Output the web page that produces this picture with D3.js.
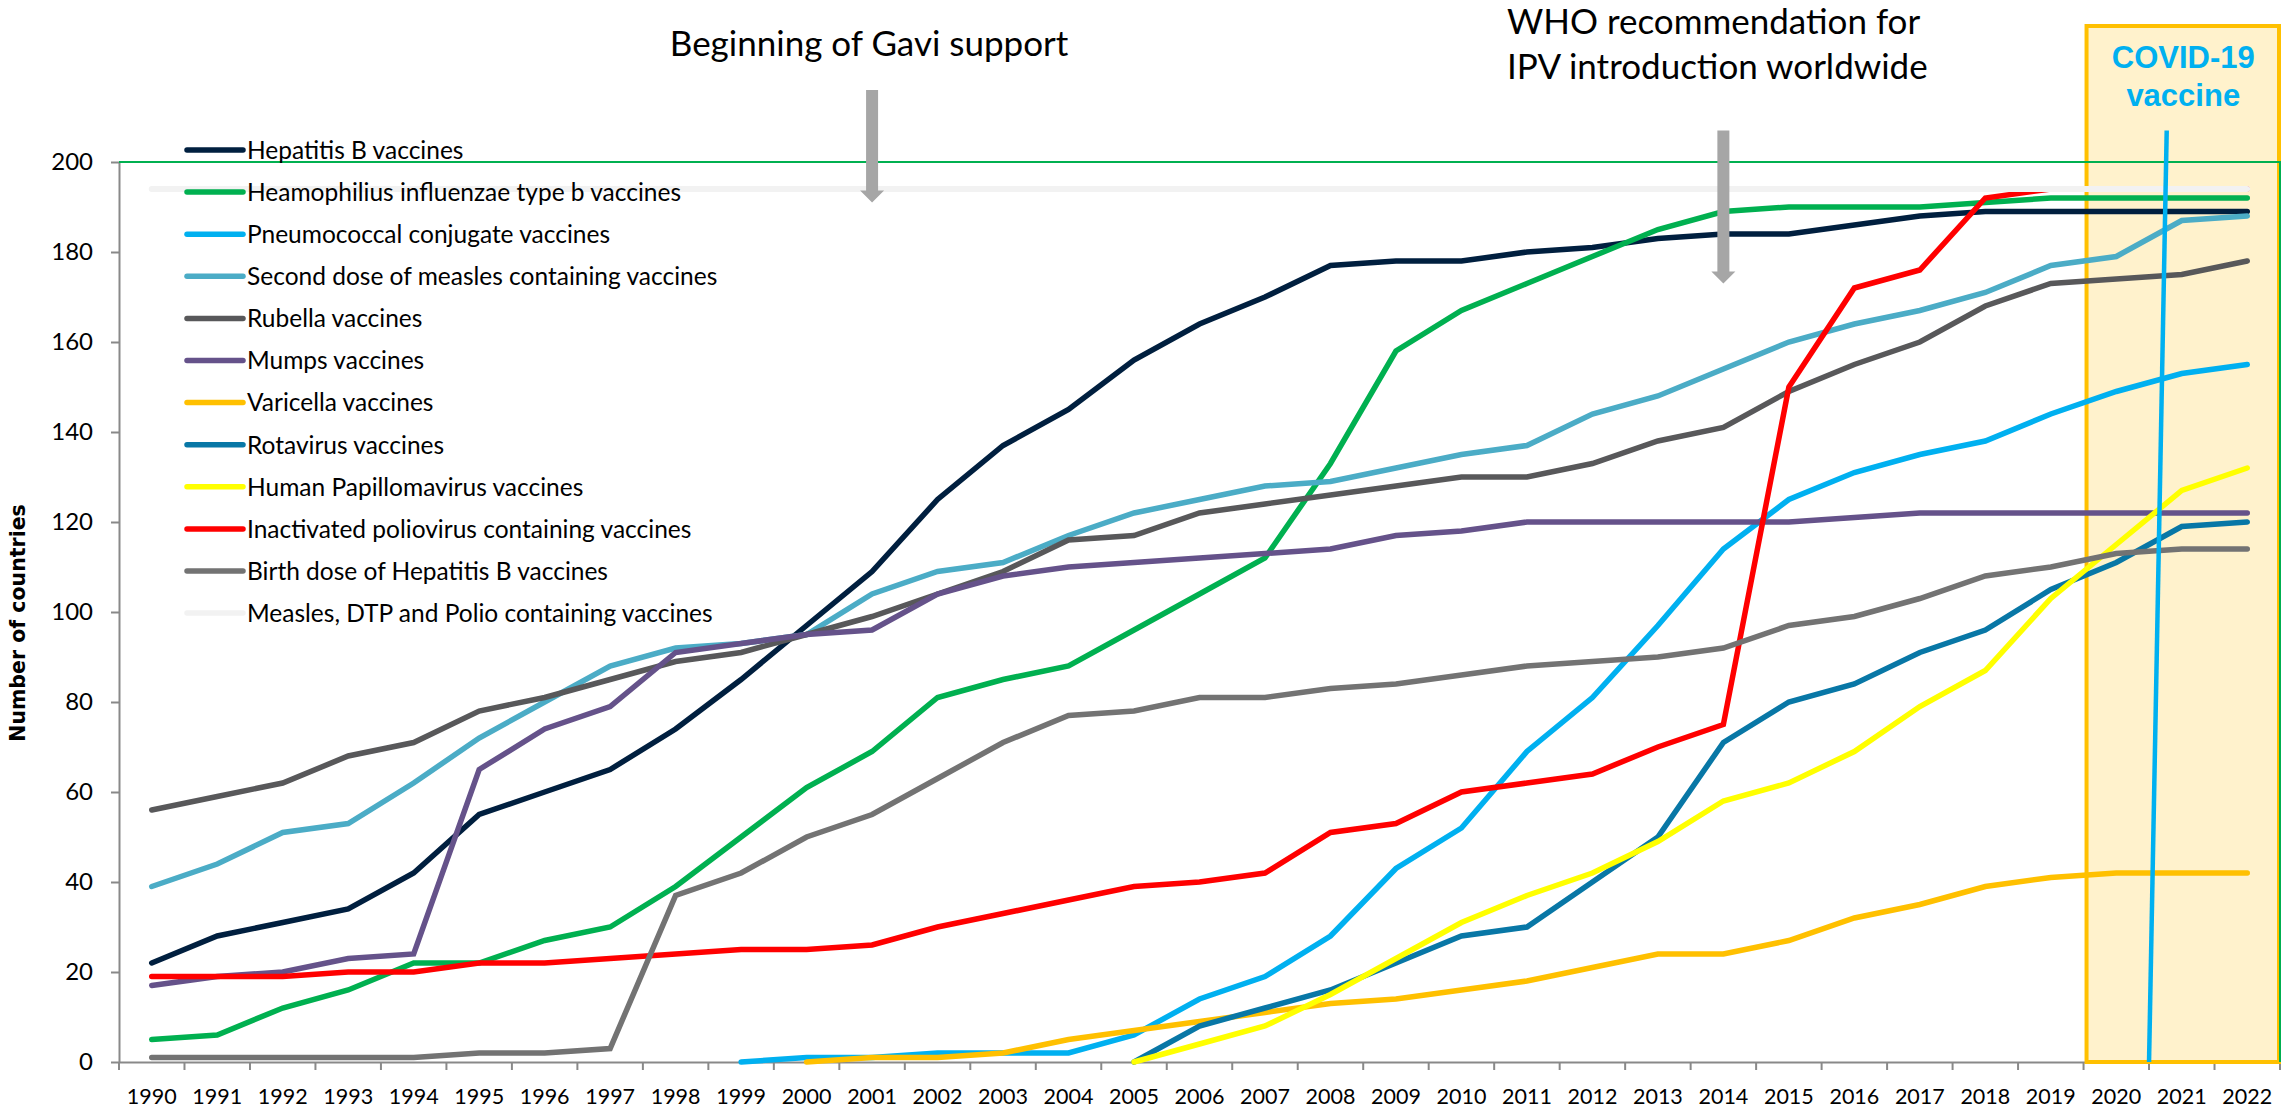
<!DOCTYPE html>
<html>
<head>
<meta charset="utf-8">
<script src="https://cdn.jsdelivr.net/npm/d3@7"></script>
<style>
  body{ margin:0; padding:0; background:#fff; }
  svg{ display:block; }
  .tick text{ font-family: Lato, "Noto Sans", sans-serif; fill:#000; }
</style>
</head>
<body>
<div id="chart"></div>
<script>
// chart data
const years = ["1990","1991","1992","1993","1994","1995","1996","1997","1998","1999","2000",
  "2001","2002","2003","2004","2005","2006","2007","2008","2009","2010","2011",
  "2012","2013","2014","2015","2016","2017","2018","2019","2020","2021","2022"];
const yTicks = [0,20,40,60,80,100,120,140,160,180,200];

const seriesNames = [
  "Hepatitis B vaccines",
  "Heamophilius influenzae type b vaccines",
  "Pneumococcal conjugate vaccines",
  "Second dose of measles containing vaccines",
  "Rubella vaccines",
  "Mumps vaccines",
  "Varicella vaccines",
  "Rotavirus vaccines",
  "Human Papillomavirus vaccines",
  "Inactivated poliovirus containing vaccines",
  "Birth dose of Hepatitis B vaccines",
  "Measles, DTP and Polio containing vaccines"
];
const seriesColors = ["#001f3f","#00b050","#00b0f0","#4bacc6","#58585a","#65528a",
  "#ffc000","#0877a6","#ffff00","#ff0000","#737373","#f2f2f2"];

const hepB      = [22,28,31,34,42,55,60,65,74,85,97,109,125,137,145,156,164,170,177,178,178,180,181,183,184,184,186,188,189,189,189,189,189];
const hib       = [5,6,12,16,22,22,27,30,39,50,61,69,81,85,88,96,104,112,133,158,167,173,179,185,189,190,190,190,191,192,192,192,192];
const pcv       = [null,null,null,null,null,null,null,null,null,0,1,1,2,2,2,6,14,19,28,43,52,69,81,97,114,125,131,135,138,144,149,153,155];
const mcv2      = [39,44,51,53,62,72,80,88,92,93,95,104,109,111,117,122,125,128,129,132,135,137,144,148,154,160,164,167,171,177,179,187,188];
const rubella   = [56,59,62,68,71,78,81,85,89,91,95,99,104,109,116,117,122,124,126,128,130,130,133,138,141,149,155,160,168,173,174,175,178];
const mumps     = [17,19,20,23,24,65,74,79,91,93,95,96,104,108,110,111,112,113,114,117,118,120,120,120,120,120,121,122,122,122,122,122,122];
const varicella = [null,null,null,null,null,null,null,null,null,null,0,1,1,2,5,7,9,11,13,14,16,18,21,24,24,27,32,35,39,41,42,42,42];
const rota      = [null,null,null,null,null,null,null,null,null,null,null,null,null,null,null,0,8,12,16,22,28,30,40,50,71,80,84,91,96,105,111,119,120];
const hpv       = [null,null,null,null,null,null,null,null,null,null,null,null,null,null,null,0,4,8,15,23,31,37,42,49,58,62,69,79,87,103,115,127,132];
const ipv       = [19,19,19,20,20,22,22,23,24,25,25,26,30,33,36,39,40,42,51,53,60,62,64,70,75,150,172,176,192,194,194,194,194];
const birthDose = [1,1,1,1,1,2,2,3,37,42,50,55,63,71,77,78,81,81,83,84,86,88,89,90,92,97,99,103,108,110,113,114,114];
const mdp       = [194,194,194,194,194,194,194,194,194,194,194,194,194,194,194,194,194,194,194,194,194,194,194,194,194,194,194,194,194,194,194,194,194];

// annotations: [year position, value]
const covidYears = ["2020","2021","2022"];
const covidLine = [[2020.5, 0], [2020.77, 207]];
const gaviArrow = {year: "2001", top: 216, tip: 191};
const whoArrow = {year: "2014", top: 207, tip: 173};

const allSeries = [hepB, hib, pcv, mcv2, rubella, mumps, varicella, rota, hpv, ipv, birthDose, mdp];

/*
Initial SVG values
*/
var width = 2285;
var height = 1117;
var plotLeft = 119, plotRight = 2280, plotTop = 162, plotBottom = 1062;

var svg = d3.select("#chart")
    .append("svg")
    .attr("width", width)
    .attr("height", height);

var x = d3.scaleBand()
    .domain(years)
    .range([plotLeft, plotRight]);

var bw = x.bandwidth();
var cx = (d) => x(d) + bw / 2;

//continuous year scale for annotations placed between categories
var xYear = d3.scaleLinear()
    .domain([+years[0], +years[years.length - 1]])
    .range([cx(years[0]), cx(years[years.length - 1])]);

var y = d3.scaleLinear()
    .domain([0, 200])
    .range([plotBottom, plotTop]);

/*
Axes
*/
var xAxis = svg.append("g")
    .attr("transform", "translate(0," + plotBottom + ")")
    .call(d3.axisBottom(x).tickSize(0).tickPadding(27));
xAxis.select(".domain").attr("stroke", "#898989").attr("stroke-width", 2);
xAxis.selectAll(".tick text").style("font-size", "21.5px");

//tick marks sit on the category boundaries
var bounds = years.map((d) => x(d)).concat([plotRight]);
svg.append("g")
    .selectAll("line")
    .data(bounds)
    .enter()
    .append("line")
    .attr("x1", (d) => d)
    .attr("x2", (d) => d)
    .attr("y1", plotBottom)
    .attr("y2", plotBottom + 8)
    .attr("stroke", "#898989")
    .attr("stroke-width", 2);

var yAxis = svg.append("g")
    .attr("transform", "translate(" + plotLeft + ",0)")
    .call(d3.axisLeft(y).tickValues(yTicks).tickSize(8).tickSizeOuter(0).tickPadding(18));
yAxis.select(".domain").attr("stroke", "#898989").attr("stroke-width", 2);
yAxis.selectAll(".tick line").attr("stroke", "#898989").attr("stroke-width", 2);
yAxis.selectAll(".tick text").style("font-size", "24px");

svg.append("text")
    .attr("transform", "translate(25," + ((plotTop + plotBottom) / 2 + 11) + ") rotate(-90)")
    .attr("text-anchor", "middle")
    .style("font-family", "'DejaVu Sans', Verdana, sans-serif")
    .style("font-weight", "bold")
    .style("font-size", "20.5px")
    .text("Number of countries");

/*
COVID-19 box
*/
var boxLeft = x(covidYears[0]) + 3;
svg.append("rect")
    .attr("x", boxLeft)
    .attr("y", 26)
    .attr("width", plotRight - 1 - boxLeft)
    .attr("height", plotBottom - 26)
    .attr("fill", "#fff2cc")
    .attr("stroke", "#ffc000")
    .attr("stroke-width", 4);

//plot area border (top and right)
svg.append("path")
    .attr("d", "M" + plotLeft + "," + plotTop + "H" + plotRight + "V" + plotBottom)
    .attr("fill", "none")
    .attr("stroke", "#00b050")
    .attr("stroke-width", 2);

/*
Series lines
*/
var line = d3.line()
    .defined((d) => d[1] !== null)
    .x((d) => cx(d[0]))
    .y((d) => y(d[1]));

svg.append("g")
    .selectAll("path")
    .data(allSeries)
    .enter()
    .append("path")
    .attr("d", (s) => line(s.map((v, i) => [years[i], v])))
    .attr("fill", "none")
    .attr("stroke", (s, i) => seriesColors[i])
    .attr("stroke-width", (s, i) => i === 11 ? 6 : 5.5)
    .attr("stroke-linecap", "round")
    .attr("stroke-linejoin", "miter");

//covid vaccine introduction line
svg.append("path")
    .datum(covidLine)
    .attr("d", d3.line().x((d) => xYear(d[0])).y((d) => y(d[1])))
    .attr("stroke", "#00b0f0")
    .attr("stroke-width", 4.5)
    .attr("fill", "none");

svg.append("text")
    .attr("x", boxLeft + (plotRight - boxLeft) / 2)
    .attr("y", 68)
    .attr("text-anchor", "middle")
    .style("font-family", "'Liberation Sans', Arial, sans-serif")
    .style("font-weight", "bold")
    .style("font-size", "31px")
    .style("fill", "#00b0f0")
    .selectAll("tspan")
    .data(["COVID-19", "vaccine"])
    .enter()
    .append("tspan")
    .attr("x", boxLeft + (plotRight - boxLeft) / 2)
    .attr("dy", (d, i) => i === 0 ? 0 : 38)
    .text((d) => d);

/*
Legend
*/
var legend = svg.append("g")
    .selectAll("g")
    .data(seriesNames)
    .enter()
    .append("g")
    .attr("transform", (d, i) => "translate(187," + (150 + i * 42.1) + ")");

legend.append("line")
    .attr("x1", 0)
    .attr("x2", 56)
    .attr("stroke", (d, i) => seriesColors[i])
    .attr("stroke-width", 5.5)
    .attr("stroke-linecap", "round");

legend.append("text")
    .attr("x", 60)
    .attr("dy", "0.36em")
    .style("font-family", "Lato, 'Noto Sans', sans-serif")
    .style("font-size", "24.5px")
    .text((d) => d);

/*
Annotation arrows
*/
function arrow(a){
  var ax = cx(a.year);
  var top = y(a.top), tip = y(a.tip), headBase = tip - 12;
  return "M" + (ax - 6) + "," + top + "H" + (ax + 6) + "V" + headBase + "H" + (ax + 12)
    + "L" + ax + "," + tip + "L" + (ax - 12) + "," + headBase + "H" + (ax - 6) + "Z";
}

svg.append("path").attr("d", arrow(gaviArrow)).attr("fill", "#a6a6a6");
svg.append("path").attr("d", arrow(whoArrow)).attr("fill", "#a6a6a6");

svg.append("text")
    .attr("x", cx(gaviArrow.year) - 3)
    .attr("y", 56)
    .attr("text-anchor", "middle")
    .style("font-family", "Lato, 'Noto Sans', sans-serif")
    .style("font-size", "35px")
    .text("Beginning of Gavi support");

svg.append("text")
    .attr("y", 34)
    .style("font-family", "Lato, 'Noto Sans', sans-serif")
    .style("font-size", "35px")
    .selectAll("tspan")
    .data(["WHO recommendation for", "IPV introduction worldwide"])
    .enter()
    .append("tspan")
    .attr("x", 1507)
    .attr("dy", (d, i) => i === 0 ? 0 : 45)
    .text((d) => d);
</script>
</body>
</html>
